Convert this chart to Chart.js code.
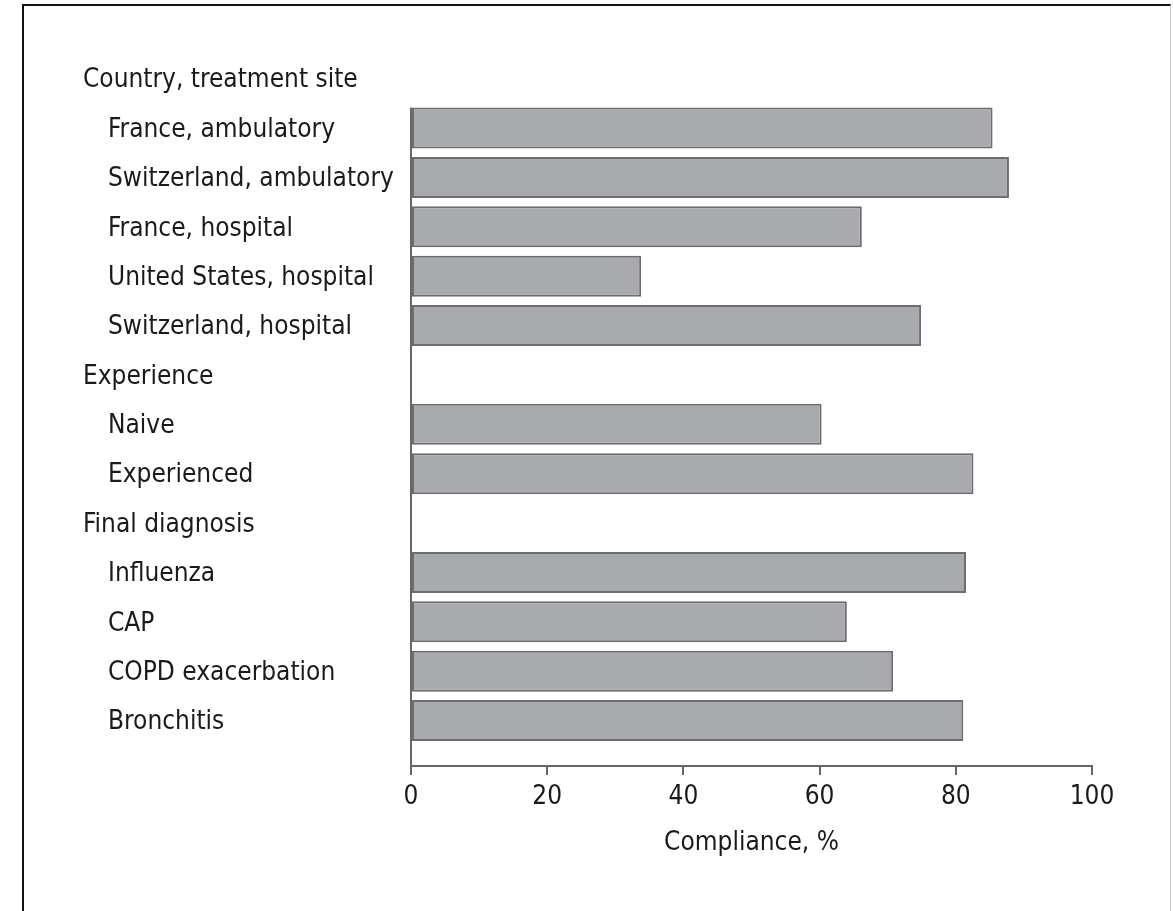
<!DOCTYPE html>
<html>
<head>
<meta charset="utf-8">
<script src="https://cdn.jsdelivr.net/npm/chart.js@4.4.1/dist/chart.umd.min.js"></script>
<style>
    html, body { margin: 0; padding: 0; background: #fff; }
    #wrap { position: relative; width: 1173px; height: 911px; overflow: hidden; }
    #frame {
        position: absolute; left: 22px; top: 4px; width: 1146px; height: 920px;
        border-left: 2px solid #111; border-top: 2px solid #111; border-right: 1px solid #c8c8c8;
        pointer-events: none;
    }
    canvas { position: absolute; left: 0; top: 0; }
</style>
</head>
<body>
<div id="wrap">
    <canvas id="complianceChart" width="1173" height="911" style="width:1173px;height:911px"></canvas>
    <div id="frame"></div>
</div>
<script>
/* Compliance by subgroup — horizontal bars, group headers without bars */

const categories = [
    'Country, treatment site',
    'France, ambulatory',
    'Switzerland, ambulatory',
    'France, hospital',
    'United States, hospital',
    'Switzerland, hospital',
    'Experience',
    'Naive',
    'Experienced',
    'Final diagnosis',
    'Influenza',
    'CAP',
    'COPD exacerbation',
    'Bronchitis'
];
const headerRows = [0, 6, 9];
const compliance = [null, 85.4, 87.8, 66.2, 33.8, 74.9, null, 60.3, 82.6, null, 81.5, 64.0, 70.8, 81.1];
const xTicks = [0, 20, 40, 60, 80, 100];

const FONT = "'DejaVu Sans Condensed', 'Liberation Sans Narrow', sans-serif";
const FONT_SIZE = 26;
const TEXT = '#1a1a1a';
const AXIS = '#66676a';

const labelPlugin = {
    id: 'rowLabels',
    afterDraw(chart) {
        const ctx = chart.ctx;
        const y = chart.scales.y;
        const x = chart.scales.x;
        const meta = chart.getDatasetMeta(0);

        // y axis line: from top of first bar down to the x axis
        const first = meta.data.find((el, i) => compliance[i] !== null);
        const top = first ? first.y - first.height / 2 : chart.chartArea.top;
        ctx.save();
        ctx.strokeStyle = AXIS;
        ctx.lineWidth = 2;
        ctx.beginPath();
        ctx.moveTo(x.left, top);
        ctx.lineTo(x.left, chart.chartArea.bottom);
        ctx.stroke();

        ctx.fillStyle = TEXT;
        ctx.font = FONT_SIZE + 'px ' + FONT;
        ctx.textAlign = 'left';
        ctx.textBaseline = 'middle';
        categories.forEach((label, i) => {
            const px = headerRows.includes(i) ? 83 : 108;
            ctx.fillText(label, px, y.getPixelForValue(i) + 2);
        });
        ctx.restore();
    }
};

new Chart(document.getElementById('complianceChart'), {
    type: 'bar',
    data: {
        datasets: [{
            data: compliance.map((v, i) => ({ x: v, y: i })),
            backgroundColor: '#a9aaad',
            borderColor: '#6c6d70',
            borderWidth: 2,
            borderSkipped: false,
            categoryPercentage: 1,
            barPercentage: 0.83
        }]
    },
    options: {
        indexAxis: 'y',
        responsive: false,
        animation: false,
        devicePixelRatio: 1,
        layout: { padding: { left: 411, top: 54, right: 81, bottom: 52 } },
        plugins: { legend: { display: false }, tooltip: { enabled: false } },
        scales: {
            y: {
                type: 'linear',
                display: false,
                offset: false,
                reverse: true,
                min: -0.5,
                max: 13.92,
                afterBuildTicks: s => { s.ticks = categories.map((_, i) => ({ value: i })); }
            },
            x: {
                type: 'linear',
                position: 'bottom',
                min: 0,
                max: 100,
                afterBuildTicks: s => { s.ticks = xTicks.map(v => ({ value: v })); },
                afterFit: s => { s.height = 93; },
                grid: { display: true, drawOnChartArea: false, drawTicks: true, tickLength: 9, color: AXIS, lineWidth: 2 },
                border: { display: true, color: AXIS, width: 2 },
                ticks: { color: TEXT, padding: 7, font: { family: FONT, size: FONT_SIZE } },
                title: {
                    display: true,
                    text: 'Compliance, %',
                    color: TEXT,
                    padding: { top: 6, bottom: 0 },
                    font: { family: FONT, size: FONT_SIZE }
                }
            }
        }
    },
    plugins: [labelPlugin]
});
</script>
</body>
</html>
